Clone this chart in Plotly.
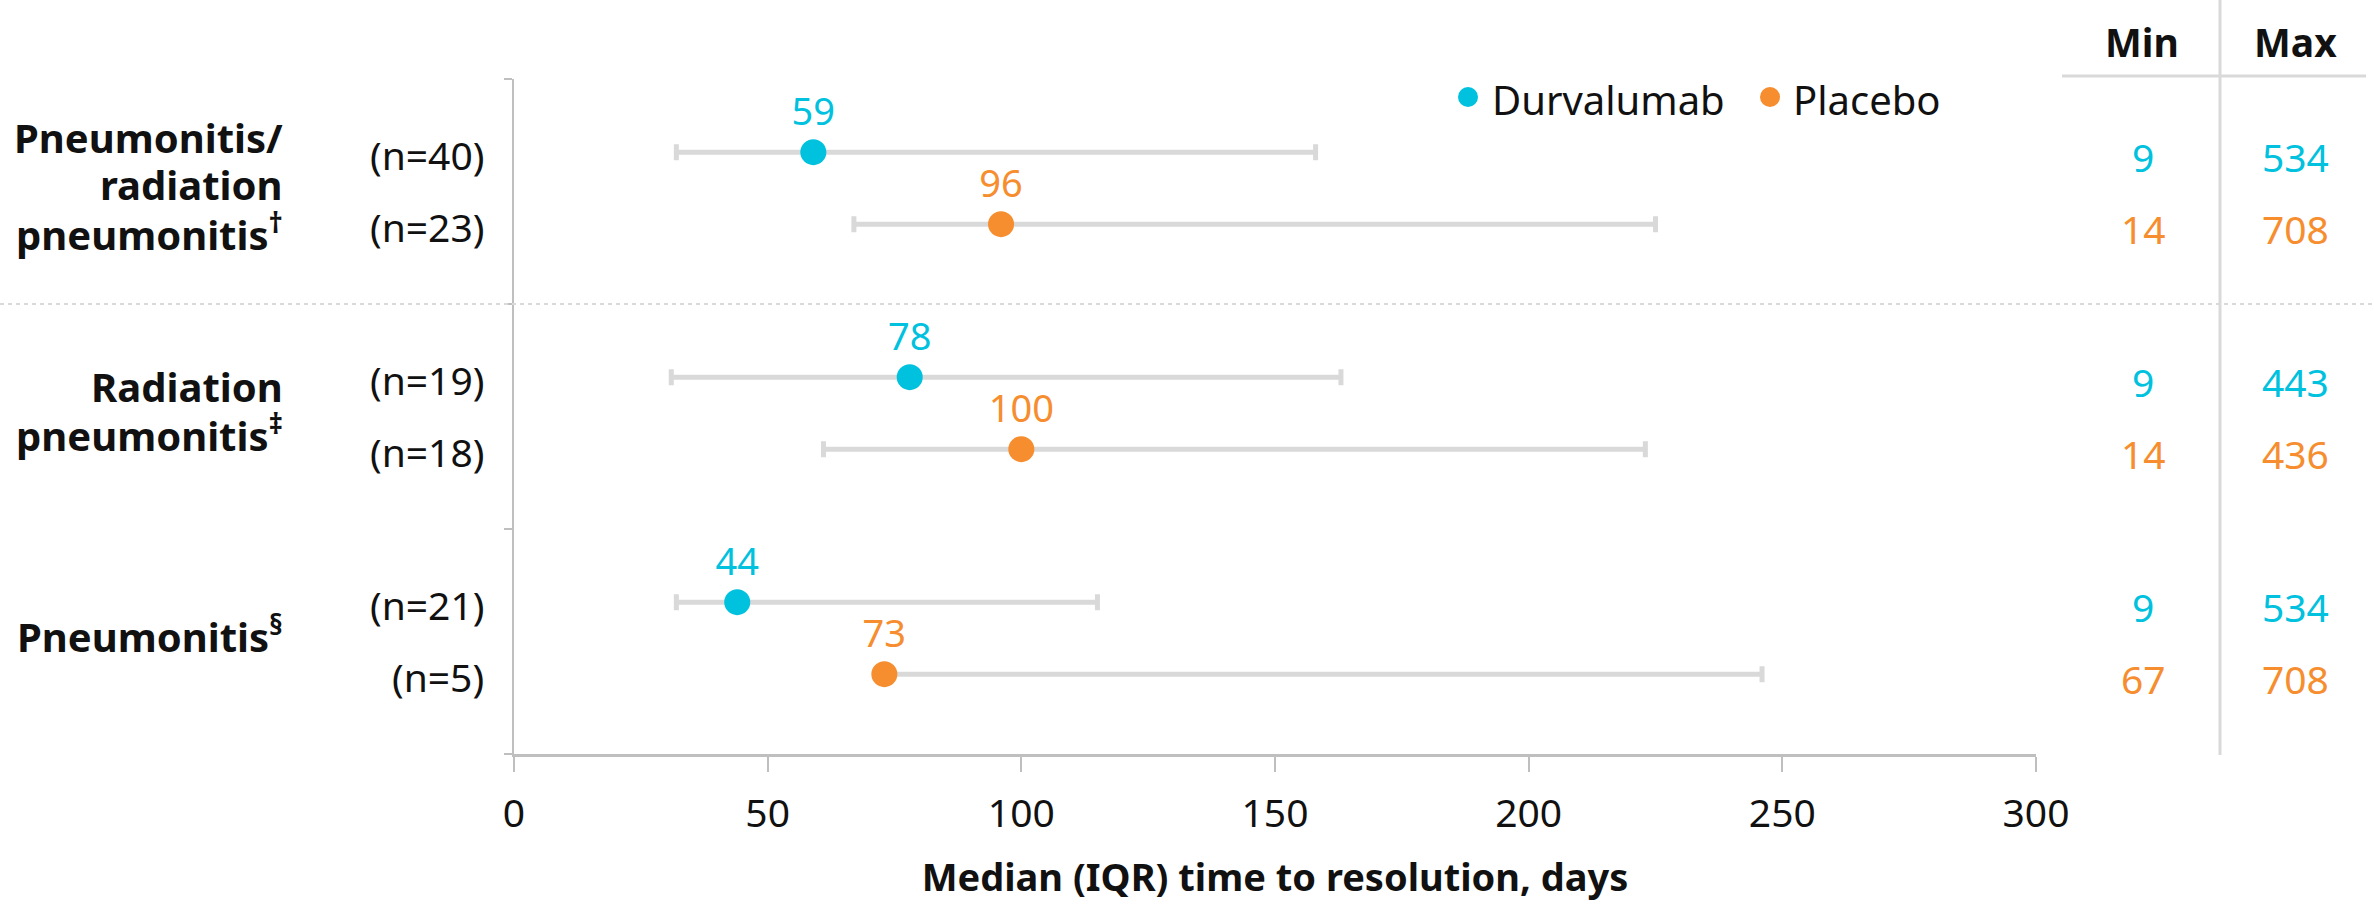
import plotly.graph_objects as go

# ---- data -------------------------------------------------------------
group_label_lines = [
    ["Pneumonitis/", "radiation", "pneumonitis<sup>†</sup>"],
    ["Radiation", "pneumonitis<sup>‡</sup>"],
    ["Pneumonitis<sup>§</sup>"],
]
n_durva = [40, 19, 21]
n_placebo = [23, 18, 5]

median_durva = [59, 78, 44]
q1_durva = [32, 31, 32]
q3_durva = [158, 163, 115]

median_placebo = [96, 100, 73]
q1_placebo = [67, 61, 72]
q3_placebo = [225, 223, 246]

min_durva = [9, 9, 9]
max_durva = [534, 443, 534]
min_placebo = [14, 14, 67]
max_placebo = [708, 436, 708]

x_ticks = [0, 50, 100, 150, 200, 250, 300]
series_names = ["Durvalumab", "Placebo"]

# ---- styling ------------------------------------------------------------
W, H = 2374, 908
L, R, T, B = 514, 2036, 79, 754  # plot area in pixels
CYAN = "#00C1DE"
ORANGE = "#F68D2E"
BAR_GREY = "#D9D9D9"
AXIS_GREY = "#BFBFBF"
TXT = "#111111"
FONT = "Noto Sans"


def xp(px):
    return (px - L) / (R - L)


def yp(py):
    return (B - py) / (B - T)


ROW_OFF = [0.325, 0.645]  # row offset inside each group band
y_durva = [i + ROW_OFF[0] for i in range(len(median_durva))]
y_placebo = [i + ROW_OFF[1] for i in range(len(median_placebo))]

fig = go.Figure()


def add_series(med, q1, q3, ys, color, name):
    fig.add_trace(go.Scatter(
        x=med, y=ys, mode="markers+text", name=name,
        marker=dict(size=26, color=color),
        text=[str(v) for v in med], textposition="top center",
        textfont=dict(family=FONT, size=38, color=color),
        error_x=dict(type="data", symmetric=False,
                     array=[b - m for m, b in zip(med, q3)],
                     arrayminus=[m - a for m, a in zip(med, q1)],
                     color=BAR_GREY, thickness=5, width=8),
        showlegend=False, cliponaxis=False,
    ))


add_series(median_durva, q1_durva, q3_durva, y_durva, CYAN, series_names[0])
add_series(median_placebo, q1_placebo, q3_placebo, y_placebo, ORANGE, series_names[1])

annotations = []
shapes = []

# group labels (one annotation per line for tight leading)
LINE_STEP = 0.21
for gi, lines in enumerate(group_label_lines):
    c = gi + 0.47
    n = len(lines)
    for k, line in enumerate(lines):
        annotations.append(dict(
            text=line, xref="paper", yref="y", x=xp(285),
            y=c + (k - (n - 1) / 2) * LINE_STEP,
            xanchor="right", yanchor="middle", showarrow=False,
            font=dict(family=FONT, size=40, color=TXT, weight="bold"),
        ))

# n= labels and min / max table
for vals_n, ys in ((n_durva, y_durva), (n_placebo, y_placebo)):
    for nv, yv in zip(vals_n, ys):
        annotations.append(dict(
            text=f"(n={nv})", xref="paper", yref="y", x=xp(486), y=yv + 0.01,
            xanchor="right", yanchor="middle", showarrow=False,
            font=dict(family=FONT, size=39, color=TXT),
        ))

for mins, maxs, ys, col in ((min_durva, max_durva, y_durva, CYAN),
                            (min_placebo, max_placebo, y_placebo, ORANGE)):
    for mn, mx, yv in zip(mins, maxs, ys):
        for val, cx in ((mn, 2143), (mx, 2295)):
            annotations.append(dict(
                text=str(val), xref="paper", yref="y", x=xp(cx), y=yv + 0.02,
                xanchor="center", yanchor="middle", showarrow=False,
                font=dict(family=FONT, size=39, color=col),
            ))

for head, cx in (("Min", 2142), ("Max", 2295)):
    annotations.append(dict(
        text=head, xref="paper", yref="paper", x=xp(cx), y=yp(41),
        xanchor="center", yanchor="middle", showarrow=False,
        font=dict(family=FONT, size=39, color=TXT, weight="bold"),
    ))

# table rules
shapes.append(dict(type="line", xref="paper", yref="paper",
                   x0=xp(2062), x1=xp(2366), y0=yp(76), y1=yp(76),
                   line=dict(color=BAR_GREY, width=3)))
shapes.append(dict(type="line", xref="paper", yref="paper",
                   x0=xp(2220), x1=xp(2220), y0=yp(0), y1=yp(755),
                   line=dict(color=BAR_GREY, width=3)))

# dashed separator after the first group
shapes.append(dict(type="line", xref="paper", yref="y",
                   x0=xp(0), x1=xp(W), y0=1, y1=1,
                   line=dict(color=BAR_GREY, width=2, dash="4px,4px")))

# legend
for name, col, dot_x, txt_x in ((series_names[0], CYAN, 1468, 1490),
                                (series_names[1], ORANGE, 1770, 1791)):
    r = 10
    shapes.append(dict(type="circle", xref="paper", yref="paper",
                       x0=xp(dot_x - r), x1=xp(dot_x + r),
                       y0=yp(97 + r), y1=yp(97 - r),
                       fillcolor=col, line=dict(width=0)))
    annotations.append(dict(
        text=name, xref="paper", yref="paper", x=xp(txt_x), y=yp(99),
        xanchor="left", yanchor="middle", showarrow=False,
        font=dict(family=FONT, size=40, color=TXT),
    ))

fig.update_layout(
    width=W, height=H,
    margin=dict(l=L, r=W - R, t=T, b=H - B, pad=0),
    paper_bgcolor="white", plot_bgcolor="white",
    font=dict(family=FONT, color=TXT),
    annotations=annotations, shapes=shapes,
    xaxis=dict(
        range=[0, 300], tickvals=x_ticks, ticktext=[str(v) for v in x_ticks],
        showgrid=False, zeroline=False, showline=True,
        linecolor=AXIS_GREY, linewidth=3,
        ticks="outside", ticklen=15, tickwidth=1.5, tickcolor=AXIS_GREY,
        tickfont=dict(family=FONT, size=39, color=TXT),
        ticklabelstandoff=8,
        title=dict(text="Median (IQR) time to resolution, days",
                   font=dict(family=FONT, size=38, color=TXT, weight="bold"),
                   standoff=28),
    ),
    yaxis=dict(
        range=[3, 0], tickvals=[0, 1, 2, 3], showticklabels=False,
        showgrid=False, zeroline=False, showline=True,
        linecolor=AXIS_GREY, linewidth=2,
        ticks="outside", ticklen=8, tickwidth=2, tickcolor=AXIS_GREY,
    ),
)

fig.write_html("out.html")
